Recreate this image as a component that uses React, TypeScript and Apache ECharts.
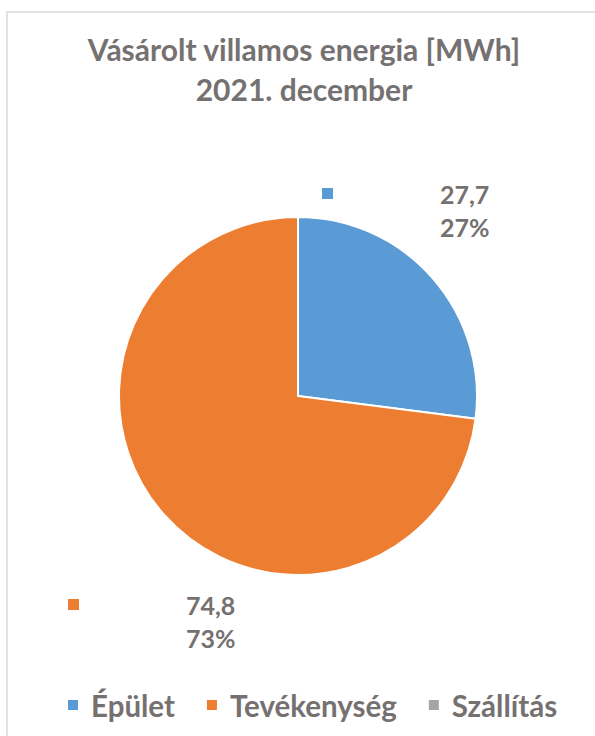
import React, { useEffect, useRef } from "react";
import * as echarts from "echarts";

const categories = ["Épület", "Tevékenység", "Szállítás"];
const values = [27.7, 74.8, 0];
const colors = ["#5B9BD5", "#ED7D31", "#A5A5A5"];
const titleText = "Vásárolt villamos energia [MWh]\n2021. december";

const TEXT = "#767171";
const FONT = "Lato";
const WEIGHT = "bold";
// label anchor positions (top-left of label block)
const labelPos = [
  { x: 322, y: 177 },
  { x: 68, y: 588 },
];

export default function App() {
  const ref = useRef<HTMLDivElement>(null);
  useEffect(() => {
    if (!ref.current) return;
    const chart = echarts.init(ref.current, null, { renderer: "svg" });
    chart.setOption({
      animation: false,
      backgroundColor: "#ffffff",
      color: colors,
      title: {
        text: titleText,
        left: 299,
        top: 24,
        textAlign: "center",
        textStyle: {
          fontFamily: FONT,
          fontSize: 30,
          fontWeight: WEIGHT,
          color: TEXT,
          lineHeight: 40,
        },
      },
      legend: {
        data: categories,
        left: 61,
        top: 685,
        icon: "rect",
        itemWidth: 12,
        itemHeight: 12,
        itemGap: 30,
        textStyle: {
          fontFamily: FONT,
          fontSize: 29.5,
          fontWeight: WEIGHT,
          color: TEXT,
          padding: [0, 0, 0, 7],
        },
      },
      graphic: [
        {
          type: "rect",
          shape: { x: 7, y: 12, width: 620, height: 760 },
          style: { fill: "none", stroke: "#d9d9d9", lineWidth: 1.5 },
          silent: true,
        },
      ],
      series: [
        {
          type: "pie",
          center: [298, 396],
          radius: 179,
          startAngle: 90,
          clockwise: true,
          itemStyle: { borderColor: "#ffffff", borderWidth: 2 },
          labelLine: { show: false },
          label: {
            show: true,
            position: "inside",
            formatter: (p: any) => {
              const v = (p.value as number).toFixed(1).replace(".", ",");
              const pc = Math.round(p.percent) + "%";
              const mk = p.dataIndex === 0 ? "mb" : "mo";
              return `{${mk}|}{v1|${v}}\n{v2|${pc}}`;
            },
            rich: {
              mb: { width: 11, height: 11, backgroundColor: colors[0] },
              mo: { width: 11, height: 11, backgroundColor: colors[1] },
              v1: {
                fontFamily: FONT,
                fontSize: 25,
                fontWeight: WEIGHT,
                color: TEXT,
                lineHeight: 33,
                padding: [0, 0, 0, 107],
              },
              v2: {
                fontFamily: FONT,
                fontSize: 25,
                fontWeight: WEIGHT,
                color: TEXT,
                lineHeight: 33,
                padding: [0, 0, 0, 118],
              },
            },
          },
          labelLayout: (params: any) => {
            const pos = labelPos[params.dataIndex];
            if (!pos) return {};
            return { x: pos.x, y: pos.y, align: "left", verticalAlign: "top" };
          },
          data: categories.map((name, i) => ({
            name,
            value: values[i],
            label: values[i] === 0 ? { show: false } : undefined,
          })),
        },
      ],
    });
    return () => chart.dispose();
  }, []);
  return (
    <div
      ref={ref}
      style={{ position: "absolute", left: 0, top: 0, width: 595, height: 736 }}
    />
  );
}
